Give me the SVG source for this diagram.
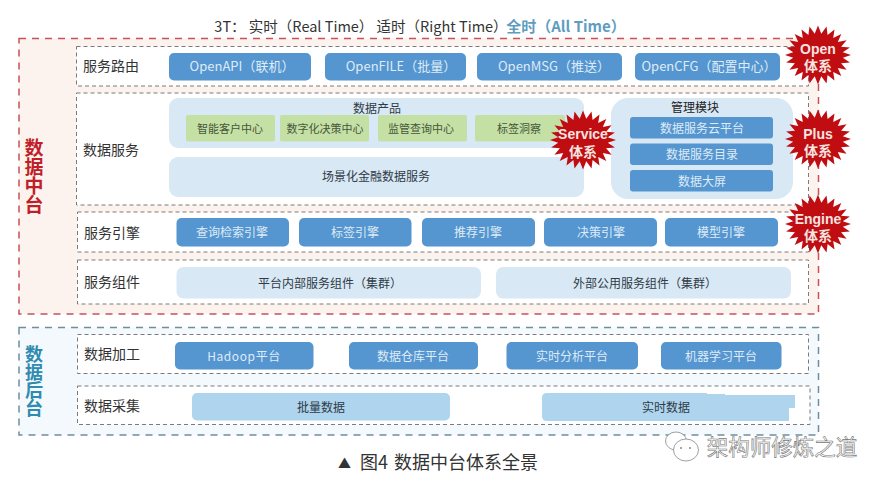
<svg xmlns="http://www.w3.org/2000/svg" width="888" height="487" viewBox="0 0 888 487">
<style>
text{font-family:"Noto Sans CJK SC","Noto Sans",sans-serif;text-anchor:middle}
.outerR{fill:#fdf3ee;stroke:#c8525a;stroke-width:1.5;stroke-dasharray:7 6}
.outerB{fill:#f3f9fc;stroke:#6f8e9c;stroke-width:1.5;stroke-dasharray:7 6}
.row{fill:#fff;stroke:#7b7b7b;stroke-width:1;stroke-dasharray:4 3}
.btn{fill:#5596d0}
.pale{fill:#d9e8f5}
.sky{fill:#aed4ee}
.green{fill:#c5e0a5}
.lab{font-size:14px;fill:#333}
.bt{font-size:13px;fill:#dfebf7}
.bs{font-size:12px;fill:#dfebf7}
.dk{font-size:12px;fill:#2f3b46}
.gt{font-size:11px;fill:#46573a}
.star{fill:#bf0d12}
text.st{font-family:"Liberation Sans","Noto Sans CJK SC",sans-serif;font-size:14px;font-weight:700;fill:#f6e4e0}
.side{font-weight:700;writing-mode:vertical-rl}
</style>
<defs>
<polygon id="burst" points="33,0 24.8,2.8 31.9,7.6 23.1,8.2 28.6,14.75 19.8,13.1 23.3,20.9 15.2,17 16.5,25.5 9.6,19.9 8.5,28.5 3.3,21.3 0,29.5 -3.3,21.3 -8.5,28.5 -9.6,19.9 -16.5,25.5 -15.2,17 -23.3,20.9 -19.8,13.1 -28.6,14.75 -23.1,8.2 -31.9,7.6 -24.8,2.8 -33,0 -24.8,-2.8 -31.9,-7.6 -23.1,-8.2 -28.6,-14.75 -19.8,-13.1 -23.3,-20.9 -15.2,-17 -16.5,-25.5 -9.6,-19.9 -8.5,-28.5 -3.3,-21.3 0,-29.5 3.3,-21.3 8.5,-28.5 9.6,-19.9 16.5,-25.5 15.2,-17 23.3,-20.9 19.8,-13.1 28.6,-14.75 23.1,-8.2 31.9,-7.6 24.8,-2.8"/>
</defs>
<rect width="888" height="487" fill="#fff"/>

<g id="title">
<text x="361" y="32" font-size="14.5" fill="#333">3T： 实时（Real Time） 适时（Right Time）</text>
<text x="566" y="32" font-size="15" font-weight="700" fill="#5f9dbf">全时（All Time）</text>
</g>

<g id="zhongtai">
<rect class="outerR" x="19" y="38.500" width="799.500" height="275.500"/>
<text class="side" font-size="19" fill="#c01f2a" x="34" y="176">数据中台</text>
</g>

<g id="houtai">
<rect class="outerB" x="19" y="327.500" width="799.500" height="107.500"/>
<text class="side" font-size="18" fill="#2f8bb0" x="34" y="381">数据后台</text>
</g>

<g id="row-route">
<rect class="row" x="76.500" y="46.500" width="732" height="39.500"/>
<text class="lab" x="111" y="71">服务路由</text>
<rect class="btn" x="169" y="53" width="142" height="27.500" rx="5"/>
<text class="bt" x="242" y="71">OpenAPI（联机）</text>
<rect class="btn" x="325" y="53" width="141" height="27.500" rx="5"/>
<text class="bt" x="401" y="71">OpenFILE（批量）</text>
<rect class="btn" x="477" y="53" width="145" height="27.500" rx="5"/>
<text class="bt" x="554" y="71">OpenMSG（推送）</text>
<rect class="btn" x="635" y="53" width="145" height="27.500" rx="5"/>
<text class="bt" x="709" y="71">OpenCFG（配置中心）</text>
</g>

<g id="row-service">
<rect class="row" x="76.500" y="93" width="732" height="112"/>
<text class="lab" x="111" y="155">数据服务</text>
<rect class="pale" x="169" y="98" width="415" height="50" rx="9"/>
<text class="dk" x="377" y="113">数据产品</text>
<rect class="green" x="186" y="115" width="89" height="26.500" rx="2"/>
<text class="gt" x="230" y="133">智能客户中心</text>
<rect class="green" x="280" y="115" width="89" height="26.500" rx="2"/>
<text class="gt" x="325" y="133">数字化决策中心</text>
<rect class="green" x="378" y="115" width="89" height="26.500" rx="2"/>
<text class="gt" x="421" y="133">监管查询中心</text>
<rect class="green" x="475" y="115" width="90" height="26.500" rx="2"/>
<text class="gt" x="519" y="133">标签洞察</text>
<rect class="pale" x="169" y="157" width="415" height="40" rx="9"/>
<text class="dk" x="376" y="181">场景化金融数据服务</text>
<rect class="pale" x="611" y="98" width="182" height="101" rx="17"/>
<text x="695" y="112" font-size="12" fill="#222">管理模块</text>
<rect class="btn" x="630" y="117" width="143" height="21.500" rx="3"/>
<text class="bs" x="702" y="133">数据服务云平台</text>
<rect class="btn" x="630" y="143.500" width="143" height="21.500" rx="3"/>
<text class="bs" x="702" y="159">数据服务目录</text>
<rect class="btn" x="630" y="170" width="143" height="21.500" rx="3"/>
<text class="bs" x="702" y="186">数据大屏</text>
</g>

<g id="row-engine">
<rect class="row" x="77.500" y="212" width="731" height="40"/>
<text class="lab" x="112" y="238">服务引擎</text>
<rect class="btn" x="176.500" y="218" width="112.500" height="28.500" rx="5"/>
<text class="bs" x="232" y="237">查询检索引擎</text>
<rect class="btn" x="299" y="218" width="112.500" height="28.500" rx="5"/>
<text class="bs" x="355" y="237">标签引擎</text>
<rect class="btn" x="422" y="218" width="113" height="28.500" rx="5"/>
<text class="bs" x="478" y="237">推荐引擎</text>
<rect class="btn" x="544" y="218" width="113" height="28.500" rx="5"/>
<text class="bs" x="601" y="237">决策引擎</text>
<rect class="btn" x="665" y="218" width="113" height="28.500" rx="5"/>
<text class="bs" x="721" y="237">模型引擎</text>
</g>

<g id="row-component">
<rect class="row" x="77.500" y="260" width="731" height="44"/>
<text class="lab" x="112" y="287">服务组件</text>
<rect class="pale" x="176.500" y="267" width="304.500" height="31.500" rx="7"/>
<text class="dk" x="330" y="288">平台内部服务组件（集群）</text>
<rect class="pale" x="496" y="267" width="295" height="31.500" rx="7"/>
<text class="dk" x="645" y="288">外部公用服务组件（集群）</text>
</g>

<g id="row-process">
<rect class="row" x="77.500" y="334.500" width="731" height="39"/>
<text class="lab" x="112" y="359">数据加工</text>
<rect class="btn" x="175" y="342" width="138.500" height="27.500" rx="5"/>
<text class="bs" x="244" y="361" letter-spacing=".6">Hadoop平台</text>
<rect class="btn" x="349" y="342" width="129" height="27.500" rx="5"/>
<text class="bs" x="413" y="361">数据仓库平台</text>
<rect class="btn" x="506.500" y="342" width="131.500" height="27.500" rx="5"/>
<text class="bs" x="572" y="361">实时分析平台</text>
<rect class="btn" x="661" y="342" width="120.500" height="27.500" rx="5"/>
<text class="bs" x="721" y="361">机器学习平台</text>
</g>

<g id="row-collect">
<rect class="row" x="77.500" y="386" width="732.500" height="38.500"/>
<text class="lab" x="112" y="411">数据采集</text>
<rect class="sky" x="192" y="393" width="258" height="27.500" rx="5"/>
<text class="dk" x="321" y="412">批量数据</text>
<path class="sky" d="M547 393H707V394H725V395H795V408H789V421H547Q542 421 542 416V398Q542 393 547 393Z"/>
<text class="dk" x="666" y="412">实时数据</text>
</g>

<g id="badge-open">
<use href="#burst" class="star" x="818" y="55"/>
<text class="st" x="818" y="54">Open<tspan x="818" dy="17">体系</tspan></text>
</g>
<g id="badge-plus">
<use href="#burst" class="star" x="818" y="139"/>
<text class="st" x="818" y="139">Plus<tspan x="818" dy="17">体系</tspan></text>
</g>
<g id="badge-engine">
<use href="#burst" class="star" x="818" y="224"/>
<text class="st" x="818" y="224">Engine<tspan x="818" dy="17">体系</tspan></text>
</g>
<g id="badge-service">
<use href="#burst" class="star" x="583" y="140"/>
<text class="st" x="583" y="139">Service<tspan x="583" dy="18">体系</tspan></text>
</g>

<g id="caption">
<text x="338" y="469" font-size="18" word-spacing="2" fill="#333" style="text-anchor:start"><tspan font-size="13" dy="-1">▲</tspan><tspan x="360" dy="1">图4 数据中台体系全景</tspan></text>
</g>

<g id="watermark">
<ellipse cx="676" cy="441" rx="10.500" ry="9" fill="#fff" stroke="#888" stroke-width=".8"/>
<ellipse cx="686" cy="450" rx="12.500" ry="11" fill="#fff" stroke="#888" stroke-width=".8"/>
<circle cx="681" cy="448" r="1" fill="#888"/>
<circle cx="690" cy="448" r="1" fill="#888"/>
<text x="782" y="455" font-size="21.500" fill="#fff" stroke="#777" stroke-width=".6">架构师修炼之道</text>
</g>
</svg>
